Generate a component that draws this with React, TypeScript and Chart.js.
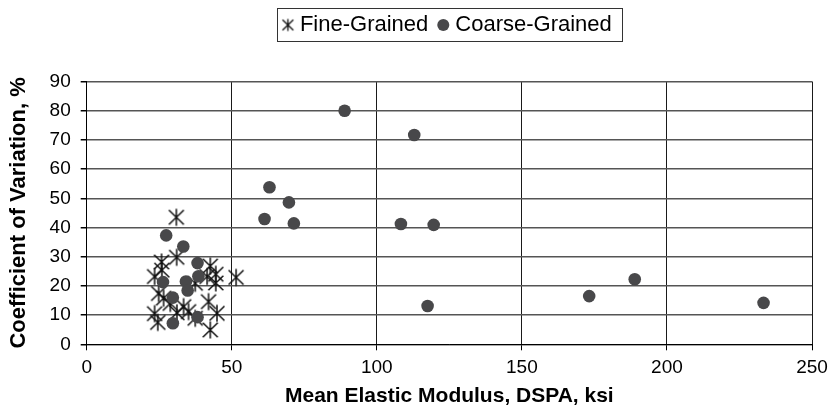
import React, { useEffect, useRef } from 'react';
import { Chart, registerables } from 'chart.js';

Chart.register(...registerables);

const seriesNames = ['Fine-Grained', 'Coarse-Grained'];

const fineX = [30.9, 25.8, 31.0, 23.4, 25.9, 24.8, 26.5, 28.8, 33.4, 23.4, 24.5, 31.1, 35.1, 37.4, 37.4, 41.5, 42.6, 44.5, 44.5, 51.5, 42.0, 44.9, 42.6];
const fineY = [43.5, 28.2, 29.8, 23.2, 25.4, 17.4, 15.8, 14.0, 12.9, 10.5, 7.5, 10.8, 11.2, 8.9, 20.9, 23.2, 26.8, 21.0, 24.0, 22.9, 14.6, 10.6, 4.9];

const coarseX = [27.4, 33.3, 38.2, 38.5, 34.2, 26.3, 34.8, 29.7, 38.2, 29.7, 61.3, 63.0, 69.7, 71.4, 88.9, 112.9, 108.3, 119.6, 117.5, 173.2, 188.9, 233.3];
const coarseY = [37.3, 33.5, 27.8, 23.3, 21.5, 21.3, 18.4, 16.0, 9.3, 7.2, 42.9, 53.8, 48.6, 41.4, 80.0, 71.7, 41.2, 40.9, 13.1, 16.5, 22.3, 14.2];

const xTicks = [0, 50, 100, 150, 200, 250];
const yTicks = [0, 10, 20, 30, 40, 50, 60, 70, 80, 90];

const xTitle = 'Mean Elastic Modulus, DSPA, ksi';
const yTitle = 'Coefficient of Variation, %';

const FONT = '"Liberation Sans", Arial, Helvetica, sans-serif';

function makeAsterisk(size: number, lw: number, spread: number): HTMLCanvasElement {
  const c = document.createElement('canvas');
  const s = Math.ceil(size) + 3;
  c.width = s;
  c.height = s;
  const ctx = c.getContext('2d')!;
  const m = s / 2;
  const h = size / 2;
  const dx = h * spread;
  const dy = h * 0.86;
  ctx.strokeStyle = '#111';
  ctx.lineWidth = lw;
  ctx.beginPath();
  ctx.moveTo(m, m - h);
  ctx.lineTo(m, m + h);
  ctx.moveTo(m - dx, m - dy);
  ctx.lineTo(m + dx, m + dy);
  ctx.moveTo(m + dx, m - dy);
  ctx.lineTo(m - dx, m + dy);
  ctx.stroke();
  return c;
}

const legendBoxPlugin = {
  id: 'legendBox',
  afterInit(chart: any) {
    const lg = chart.legend;
    if (lg) {
      const origFit = lg.fit.bind(lg);
      lg.fit = function () {
        origFit();
        this.height = 81.5;
      };
    }
  },
  afterDraw(chart: any) {
    const lg = chart.legend;
    if (!lg || !lg.legendHitBoxes || !lg.legendHitBoxes.length) return;
    const hb = lg.legendHitBoxes;
    const first = hb[0];
    const last = hb[hb.length - 1];
    const cy = first.top + first.height / 2;
    const left = Math.round(first.left - 10) + 0.5;
    const right = Math.round(last.left + last.width + 10) + 0.5;
    const top = Math.round(cy - 17) + 0.5;
    const bottom = Math.round(cy + 16) + 0.5;
    const ctx = chart.ctx;
    ctx.save();
    ctx.strokeStyle = '#333';
    ctx.lineWidth = 1;
    ctx.strokeRect(left, top, right - left, bottom - top);
    ctx.restore();
  },
};

export default function App() {
  const ref = useRef<HTMLCanvasElement | null>(null);

  useEffect(() => {
    if (!ref.current) return;
    const bigStar = makeAsterisk(17, 1.5, 0.88);
    const smallStar = makeAsterisk(12, 1.3, 0.9);

    const fineData = fineX.map((x, i) => ({ x, y: fineY[i] }));
    const coarseData = coarseX.map((x, i) => ({ x, y: coarseY[i] }));

    const chart = new Chart(ref.current, {
      type: 'scatter',
      data: {
        datasets: [
          {
            label: seriesNames[0],
            data: fineData,
            pointStyle: bigStar as any,
            pointRadius: 8,
            borderColor: '#111',
            backgroundColor: '#111',
            order: 1,
          },
          {
            label: seriesNames[1],
            data: coarseData,
            pointStyle: 'circle',
            pointRadius: 6.3,
            borderWidth: 0,
            borderColor: '#48484a',
            backgroundColor: '#48484a',
            order: 0,
          },
        ],
      },
      options: {
        animation: false,
        responsive: true,
        maintainAspectRatio: false,
        layout: { padding: { left: 0, right: 17, top: 0, bottom: 0 } },
        plugins: {
          tooltip: { enabled: false },
          legend: {
            position: 'top',
            fullSize: false,
            labels: {
              usePointStyle: true,
              boxWidth: 2,
              boxHeight: 8.5,
              padding: 14,
              color: '#000',
              font: { size: 22, family: FONT },
              sort: (a: any, b: any) => a.datasetIndex - b.datasetIndex,
              generateLabels: (c: any) => {
                const items = (Chart.defaults.plugins.legend.labels as any).generateLabels(c);
                items.forEach((it: any) => {
                  if (it.datasetIndex === 0) it.pointStyle = smallStar;
                  it.lineWidth = 0;
                });
                return items;
              },
            },
          },
        },
        scales: {
          x: {
            type: 'linear',
            min: 0,
            max: 250,
            afterBuildTicks: (s: any) => {
              s.ticks = xTicks.map((v) => ({ value: v }));
            },
            afterFit: (s: any) => {
              s.height = 70.7;
              s.paddingLeft = 0;
              s.paddingRight = 0;
            },
            ticks: {
              color: '#000',
              font: { size: 19, family: FONT },
              padding: 6,
              maxRotation: 0,
            },
            grid: { color: '#1a1a1a', lineWidth: 1, tickLength: 6, tickColor: '#000' },
            border: { color: '#000', width: 1 },
            title: {
              display: true,
              text: xTitle,
              color: '#000',
              font: { size: 21, weight: 'bold', family: FONT },
              padding: { top: 0, bottom: 6 },
            },
          },
          y: {
            type: 'linear',
            min: 0,
            max: 90,
            afterBuildTicks: (s: any) => {
              s.ticks = yTicks.map((v) => ({ value: v }));
            },
            afterFit: (s: any) => {
              s.width = 86.7;
            },
            ticks: {
              color: '#000',
              font: { size: 19, family: FONT },
              padding: 10,
            },
            grid: { color: '#555555', lineWidth: 1.5, tickLength: 6, tickColor: '#000' },
            border: { color: '#000', width: 1 },
            title: {
              display: true,
              text: yTitle,
              color: '#000',
              font: { size: 22, weight: 'bold', family: FONT },
              padding: { top: 6, bottom: 0 },
            },
          },
        },
      },
      plugins: [legendBoxPlugin],
    } as any);

    return () => chart.destroy();
  }, []);

  return (
    <div style={{ position: 'absolute', left: 0, top: 0, width: 829, height: 415, background: '#fff' }}>
      <canvas ref={ref} />
    </div>
  );
}
